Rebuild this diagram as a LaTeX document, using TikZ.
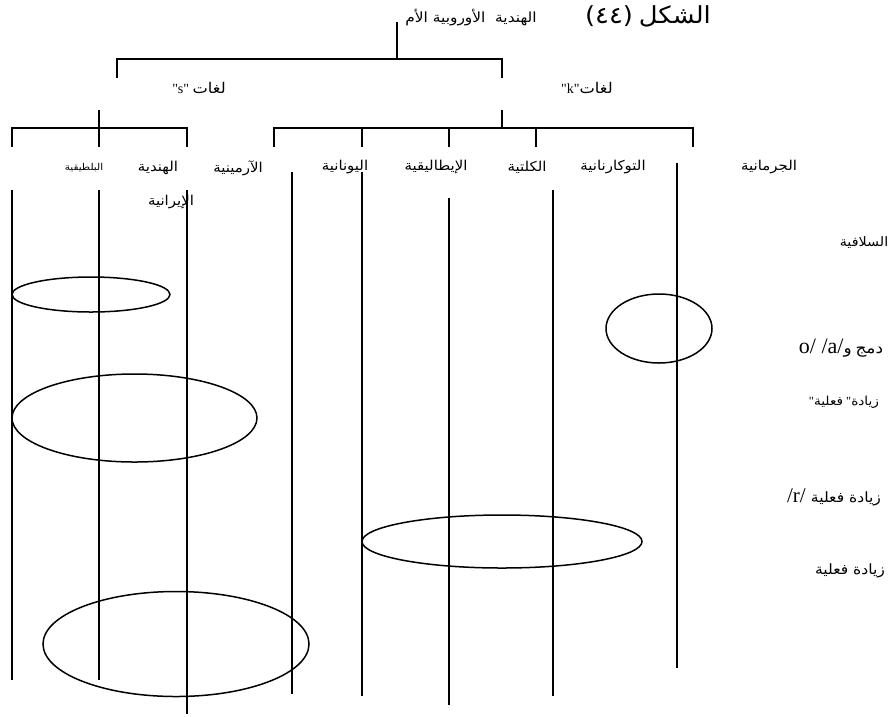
\documentclass[tikz,border=0pt]{standalone}
\usepackage{fontspec}
\setmainfont{Liberation Serif}
\newfontfamily\arabicfont[Script=Arabic, FakeStretch=1.1]{DejaVu Sans}
\TeXXeTstate=1
\newcommand{\AR}[1]{{\arabicfont\beginR #1\endR}}
% straight double quote, taken as a glyph so no text mapping curls it
\newcommand{\dq}{\XeTeXglyph\XeTeXglyphindex "quotedbl"\relax}
\usetikzlibrary{shapes.geometric}

\tikzset{
  branch/.style={line width=1.6pt, line cap=rect},
  stem/.style={line width=1.6pt},
  ring/.style={draw, ellipse, line width=1.5pt, inner sep=0pt},
  lbl/.style={inner sep=0pt, font=\fontsize{13.6}{15}\selectfont},
  small/.style={inner sep=0pt, font=\fontsize{9.5}{11}\selectfont},
}

\begin{document}
\begin{tikzpicture}[x=1pt,y=-1pt]
\useasboundingbox (0,0) rectangle (893,716);

% titles
\node[inner sep=0pt, font=\fontsize{23.5}{26}\selectfont] (title) at (648,16) {{\arabicfont (٤٤)} \AR{الشكل}};
\node[inner sep=0pt, font=\fontsize{14}{16}\selectfont] (root) at (471,18) {\AR{الهندية\ \ الأوروبية الأم}};

% top branching
\coordinate (r0) at (397,23);
\coordinate (r1) at (397,59);
\coordinate (rl) at (117,59);
\coordinate (rr) at (502,59);
\coordinate (rl2) at (117,77);
\coordinate (rr2) at (502,77);
\draw[branch] (r0) -- (r1);
\draw[branch] (rl2) -- (rl) -- (rr) -- (rr2);

\node[inner sep=0pt, font=\fontsize{14}{16}\selectfont] (slang) at (199,88)
  {\dq s\dq\ {\fontsize{14.8}{16}\selectfont\AR{لغات}}};
\node[inner sep=0pt, font=\fontsize{14}{16}\selectfont] (klang) at (587,88)
  {\dq k\dq{\fontsize{14.8}{16}\selectfont\AR{لغات}}};

% s branch
\coordinate (s0) at (99,111);
\coordinate (s1) at (99,146);
\coordinate (sa) at (12,146);
\coordinate (sa1) at (12,128);
\coordinate (sb) at (187,146);
\coordinate (sb1) at (187,128);
\draw[branch] (s0) -- (s1);
\draw[branch] (sa) -- (sa1) -- (sb1) -- (sb);

% k branch
\coordinate (k0) at (502,111);
\coordinate (k1) at (502,128);
\coordinate (ka1) at (274,128);
\coordinate (ka) at (274,146);
\coordinate (ke1) at (693,128);
\coordinate (ke) at (693,146);
\foreach \x/\n in {362/kb,449/kc,536/kd}{
  \coordinate (\n1) at (\x,128);
  \coordinate (\n) at (\x,146);
  \draw[branch] (\n1) -- (\n);
}
\draw[branch] (k0) -- (k1);
\draw[branch] (ka) -- (ka1) -- (ke1) -- (ke);

% language names
\node[small] (baltic) at (84,168) {\AR{البلطيقية}};
\node[lbl] (indic) at (158,168) {\AR{الهندية}};
\node[lbl] (iran) at (171,202) {\AR{الإيرانية}};
\node[lbl] (armen) at (238,168) {\AR{الآرمينية}};
\node[lbl] (greek) at (345,167) {\AR{اليونانية}};
\node[lbl] (ital) at (436,167) {\AR{الإيطاليقية}};
\node[lbl] (celt) at (527,167) {\AR{الكلتية}};
\node[lbl] (toch) at (613,167) {\AR{التوكارنانية}};
\node[lbl] (germ) at (769,167) {\AR{الجرمانية}};
\node[lbl, font=\fontsize{13}{15}\selectfont] (slav) at (864,243) {\AR{السلافية}};

% lineages
\foreach \x/\a/\b/\n in {12/190/680/la, 99/190/680/lb, 187/190/714/lc,
                         292/172/694/ld, 362/172/696/le, 449/198/705/lf,
                         553/190/696/lg, 677/163/668/lh}{
  \coordinate (\n0) at (\x,\a);
  \coordinate (\n1) at (\x,\b);
  \draw[stem] (\n0) -- (\n1);
}

% shared innovations
\node[ring, minimum width=158pt, minimum height=35pt] (e1) at (91,294.5) {};
\node[ring, minimum width=245pt, minimum height=88pt] (e2) at (134.5,418) {};
\node[ring, minimum width=280pt, minimum height=53pt] (e3) at (502,541.5) {};
\node[ring, minimum width=266pt, minimum height=105pt] (e4) at (176,644) {};
\node[ring, minimum width=106pt, minimum height=69pt] (e5) at (659,328.5) {};

% innovation labels
\node[inner sep=0pt, font=\fontsize{22}{24}\selectfont] (merge) at (841,348)
  {o/ /a/{\fontsize{15.4}{17}\selectfont\AR{و} \AR{دمج}}};
\node[inner sep=0pt, font=\fontsize{12.4}{14}\selectfont] (verbq) at (844,402)
  {\dq\AR{فعلية} \dq\AR{زيادة}};
\node[inner sep=0pt, font=\fontsize{21}{23}\selectfont] (verbr) at (834,497)
  {/r/ {\fontsize{14.2}{16}\selectfont\AR{زيادة فعلية}}};
\node[inner sep=0pt, font=\fontsize{14.2}{16}\selectfont] (verb) at (850,571) {\AR{زيادة فعلية}};
\end{tikzpicture}
\end{document}
